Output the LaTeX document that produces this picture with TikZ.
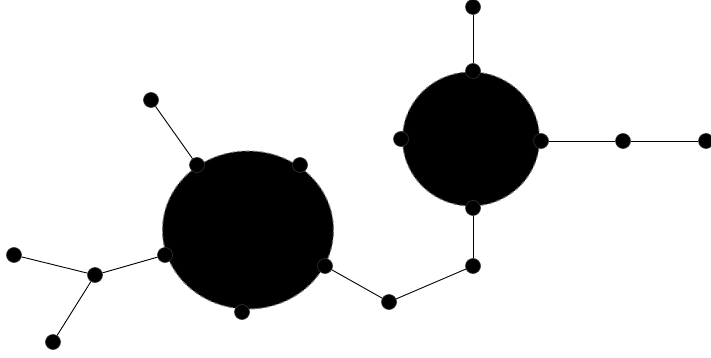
\documentclass[tikz,border=0pt]{standalone}
\usetikzlibrary{shapes.geometric}
\begin{document}
\begin{tikzpicture}[x=1pt,y=-1pt,
  dot/.style={circle,fill=black,draw=black!80,line width=0.6pt,minimum size=15pt,inner sep=0pt},
  blob/.style={ellipse,fill=black,draw=black!55,dash pattern=on 5pt off 2.5pt,line width=1pt,inner sep=0pt},
  link/.style={draw=black,line width=0.9pt}]
\useasboundingbox (0,0) rectangle (711,358);
% large filled clusters
\node[blob,minimum width=171pt,minimum height=158pt] (c1) at (248,230) {};
\node[blob,minimum width=137pt,minimum height=134pt] (c2) at (471,139) {};
% small nodes
\node[dot] (a1) at (473,7) {};
\node[dot] (a2) at (473,71) {};
\node[dot] (a3) at (401,139) {};
\node[dot] (a4) at (541,141) {};
\node[dot] (a5) at (473,208) {};
\node[dot] (a6) at (623,141) {};
\node[dot] (a7) at (706,141) {};
\node[dot] (b1) at (473,266) {};
\node[dot] (b2) at (389,302) {};
\node[dot] (b3) at (325,266) {};
\node[dot] (b4) at (242,312) {};
\node[dot] (b5) at (165,255) {};
\node[dot] (b6) at (197,165) {};
\node[dot] (b7) at (300,165) {};
\node[dot] (b8) at (151,100) {};
\node[dot] (b9) at (95,275) {};
\node[dot] (b10) at (14,255) {};
\node[dot] (b11) at (53,342) {};
% connectors
\draw[link] (a1) -- (a2);
\draw[link] (a4) -- (a6);
\draw[link] (a6) -- (a7);
\draw[link] (a5) -- (b1);
\draw[link] (b1) -- (b2);
\draw[link] (b2) -- (b3);
\draw[link] (b6) -- (b8);
\draw[link] (b5) -- (b9);
\draw[link] (b9) -- (b10);
\draw[link] (b9) -- (b11);
\end{tikzpicture}
\end{document}
